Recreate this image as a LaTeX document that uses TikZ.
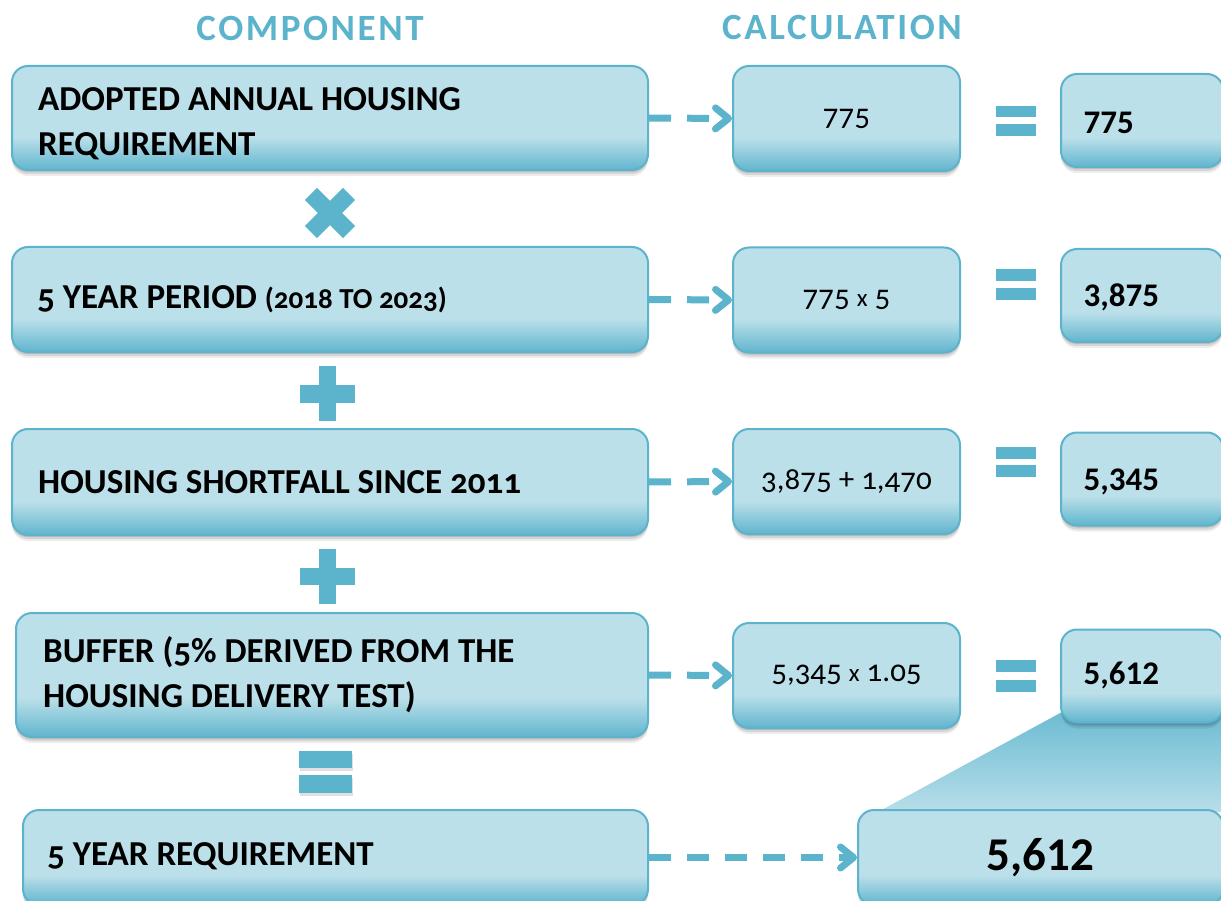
\documentclass[tikz,border=0pt]{standalone}
\usepackage{fontspec}
\setmainfont{Carlito}
\usetikzlibrary{arrows.meta,shadows}
\definecolor{sym}{RGB}{91,179,204}
\definecolor{boxlt}{RGB}{188,224,234}
\definecolor{boxdk}{RGB}{96,181,206}
\definecolor{trapdk}{RGB}{108,188,210}
\definecolor{traplt}{RGB}{184,222,233}
\pgfdeclareverticalshading{boxshade}{100bp}{color(0bp)=(boxdk); color(25bp)=(boxdk); color(41bp)=(boxlt); color(100bp)=(boxlt)}
\newcommand\osn[1]{{\addfontfeatures{Numbers=OldStyle}#1}}
\begin{document}
\begin{tikzpicture}[x=1pt,y=-1pt,
  softshadow/.style={drop shadow={shadow xshift=0pt,shadow yshift=-2pt,opacity=.12,fill=black},
                     drop shadow={shadow xshift=0pt,shadow yshift=-4pt,opacity=.10,fill=black},
                     drop shadow={shadow xshift=0pt,shadow yshift=-6pt,opacity=.07,fill=black}},
  cbox/.style={rounded corners=16pt, shading=boxshade, draw=sym, line width=2pt, softshadow},
  leftfont/.style={font=\bfseries\fontsize{35}{45}\selectfont},
  lefttext/.style={anchor=west, align=left, inner sep=0pt, leftfont},
  calcbox/.style={cbox, minimum width=227pt, minimum height=105pt, align=center, font=\fontsize{31}{36}\selectfont},
  resbox/.style={cbox, minimum width=162pt, minimum height=93pt},
  restext/.style={anchor=west, font=\bfseries\fontsize{33}{38}\selectfont},
  header/.style={text=sym, font=\bfseries\fontsize{37}{40}\selectfont\addfontfeatures{LetterSpace=7}},
  dasharrow/.style={draw=sym, line width=7pt, dash pattern=on 22pt off 16pt, -{Straight Barb[length=13pt,width=21pt,round]}}
]
\useasboundingbox (0,0) rectangle (1221,901);
\clip (0,0) rectangle (1221,901);

% headers
\node[header] (h1) at (310,28) {COMPONENT};
\node[header] (h2) at (842,28) {CALCULATION};

% connector wedge between last result and big box
\shade[top color=trapdk, bottom color=traplt] (1062,712) -- (1230,712) -- (1230,812) -- (878,812) -- cycle;

% left column
\node[cbox, minimum width=636pt, minimum height=104pt] (L1) at (330,118) {};
\node[lefttext] (T1) at ([xshift=27pt,yshift=-6pt]L1.west) {ADOPTED ANNUAL HOUSING\\REQUIREMENT};
\node[cbox, minimum width=636pt, minimum height=105pt] (L2) at (330,299.5) {};
\node[lefttext] (T2) at ([xshift=26pt]L2.west) {\osn{5} YEAR PERIOD {\fontsize{29}{30}\selectfont\osn{(2018 TO 2023)}}};
\node[cbox, minimum width=636pt, minimum height=106pt] (L3) at (330,482) {};
\node[lefttext] (T3) at ([xshift=27pt]L3.west) {HOUSING SHORTFALL SINCE \osn{2011}};
\node[cbox, minimum width=632pt, minimum height=124pt] (L4) at (332,675) {};
\node[lefttext] (T4) at ([xshift=28pt]L4.west) {BUFFER (\osn{5\%} DERIVED FROM THE\\HOUSING DELIVERY TEST)};
\node[cbox, minimum width=625pt, minimum height=95pt] (L5) at (335.5,857.5) {};
\node[lefttext] (T5) at ([xshift=25pt,yshift=1pt]L5.west) {\osn{5} YEAR REQUIREMENT};

% calculation column
\node[calcbox] (C1) at (846.5,118.5) {\osn{775}};
\node[calcbox] (C2) at (846.5,300) {\osn{775} {\fontsize{25}{28}\selectfont x} \osn{5}};
\node[calcbox] (C3) at (846.5,481.5) {\osn{3,875 + 1,470}};
\node[calcbox] (C4) at (846.5,675.5) {\osn{5,345} {\fontsize{25}{28}\selectfont x} \osn{1.05}};

% result column
\node[resbox] (R1) at (1142,120.5) {};
\node[resbox] (R2) at (1142,295.5) {};
\node[resbox] (R3) at (1142,479) {};
\node[resbox] (R4) at (1142,676) {};
\node[restext] (t1) at (1080,123) {775};
\node[restext] (t2) at (1080,297) {3,875};
\node[restext] (t3) at (1080,482) {5,345};
\node[restext] (t4) at (1080,675) {5,612};

% big result
\node[cbox, minimum width=365pt, minimum height=95pt, font=\bfseries\fontsize{47}{52}\selectfont] (B) at (1040.5,857.5) {5,612};

% connectors
\draw[dasharrow] (L1.east) -- (C1.west);
\draw[dasharrow] (L2.east) -- (C2.west);
\draw[dasharrow] (L3.east) -- (C3.west);
\draw[dasharrow] (L4.east) -- (C4.west);
\draw[dasharrow] (L5.east) -- (B.west);

% operators: multiply
\fill[sym, rotate around={45:(330,213)}] (303,204.5) rectangle (357,221.5);
\fill[sym, rotate around={-45:(330,213)}] (303,204.5) rectangle (357,221.5);
% plus signs
\fill[sym] (319,366) rectangle (336,421);
\fill[sym] (300,385) rectangle (355,403);
\fill[sym] (319,549) rectangle (336,604);
\fill[sym] (300,568) rectangle (355,585);
% left equals
\fill[black, opacity=.12] (300,754) rectangle (353,771);
\fill[black, opacity=.12] (300,778) rectangle (353,796);
\fill[sym] (299,751) rectangle (352,768);
\fill[sym] (299,775) rectangle (352,793);
% right equals
\fill[sym] (996,106) rectangle (1036,117);
\fill[sym] (996,124) rectangle (1036,136);
\fill[sym] (996,269) rectangle (1036,281);
\fill[sym] (996,288) rectangle (1036,300);
\fill[sym] (996,447) rectangle (1036,459);
\fill[sym] (996,465) rectangle (1036,477);
\fill[sym] (996,660) rectangle (1036,672);
\fill[sym] (996,680) rectangle (1036,692);
\end{tikzpicture}
\end{document}
